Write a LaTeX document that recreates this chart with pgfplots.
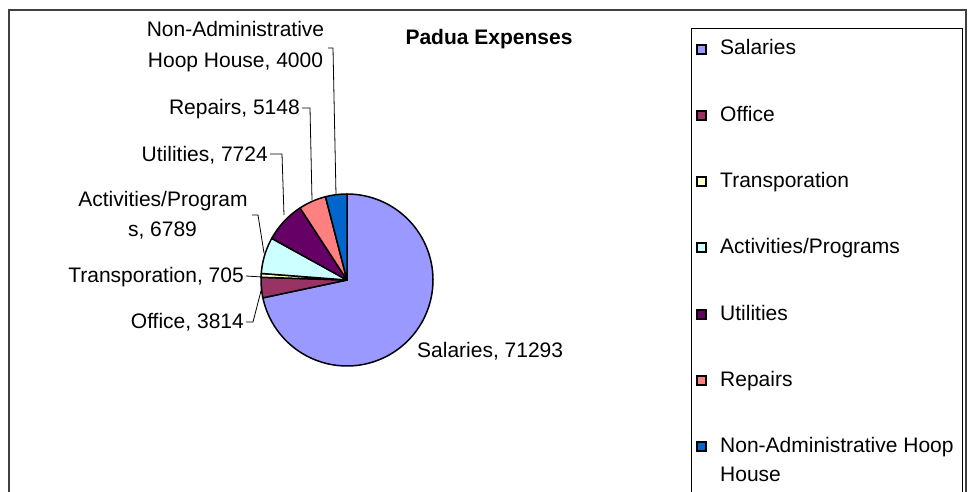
\documentclass[border=0pt]{standalone}
\usepackage{pgfplots}
\pgfplotsset{compat=1.18}
\usepackage{pgfplotstable}
\usepackage{fontspec}
\setmainfont{Liberation Sans}

\definecolor{cSal}{HTML}{9999FF}
\definecolor{cOff}{HTML}{993366}
\definecolor{cTra}{HTML}{FFFFCC}
\definecolor{cAct}{HTML}{CCFFFF}
\definecolor{cUti}{HTML}{660066}
\definecolor{cRep}{HTML}{FF8080}
\definecolor{cHoo}{HTML}{0066CC}

% Padua Expenses
\pgfplotstableread{
value
71293
3814
705
6789
7724
5148
4000
}\expenses

\newcommand\defang[2]{\expandafter\xdef\csname ang#1\endcsname{#2}}
\newcommand\ang[1]{\csname ang#1\endcsname}

\begin{document}
\begin{tikzpicture}[lab/.style={font=\fontsize{21bp}{30bp}\selectfont, inner sep=0pt}]
% total and cumulative angles (clockwise from 12 o'clock)
\xdef\tot{0}
\foreach \i in {0,...,6}{%
  \pgfplotstablegetelem{\i}{value}\of\expenses
  \xdef\tot{\fpeval{\tot+\pgfplotsretval}}%
}
\defang{0}{90}
\xdef\cum{0}
\foreach \i in {0,...,6}{%
  \pgfplotstablegetelem{\i}{value}\of\expenses
  \xdef\cum{\fpeval{\cum+\pgfplotsretval}}%
  \pgfmathtruncatemacro\j{\i+1}%
  \defang{\j}{\fpeval{90-360*\cum/\tot}}%
}
\begin{axis}[
  width=971bp, height=492bp, scale only axis,
  xmin=0, xmax=971, ymin=0, ymax=492, y dir=reverse,
  hide axis, at={(0,0)}, anchor=south west,
]
% outer chart border
\draw[black!75, line width=1.3bp] (axis cs:9,10) rectangle (axis cs:966,560);

% pie slices
\pgfplotsset{pie/.style={draw=black, line width=1.5bp, samples=90, line join=round}}
\addplot[pie, fill=cSal, domain=\ang{1}:\ang{0}] ({347+86*cos(x)},{280-86*sin(x)}) -- (axis cs:347,280) -- cycle;
\addplot[pie, fill=cOff, domain=\ang{2}:\ang{1}] ({347+86*cos(x)},{280-86*sin(x)}) -- (axis cs:347,280) -- cycle;
\addplot[pie, fill=cTra, domain=\ang{3}:\ang{2}] ({347+86*cos(x)},{280-86*sin(x)}) -- (axis cs:347,280) -- cycle;
\addplot[pie, fill=cAct, domain=\ang{4}:\ang{3}] ({347+86*cos(x)},{280-86*sin(x)}) -- (axis cs:347,280) -- cycle;
\addplot[pie, fill=cUti, domain=\ang{5}:\ang{4}] ({347+86*cos(x)},{280-86*sin(x)}) -- (axis cs:347,280) -- cycle;
\addplot[pie, fill=cRep, domain=\ang{6}:\ang{5}] ({347+86*cos(x)},{280-86*sin(x)}) -- (axis cs:347,280) -- cycle;
\addplot[pie, fill=cHoo, domain=\ang{7}:\ang{6}] ({347+86*cos(x)},{280-86*sin(x)}) -- (axis cs:347,280) -- cycle;

% leader lines
\pgfplotsset{lead/.style={black, line width=0.8bp, mark=none}}
\addplot[lead] coordinates {(328,48) (333,48) (336,195)};
\addplot[lead] coordinates {(302,108) (310,108) (312,200)};
\addplot[lead] coordinates {(270,154) (282,154) (284,215)};
\addplot[lead] coordinates {(252,215) (258,215) (264,253)};
\addplot[lead] coordinates {(246,276) (262,277)};
\addplot[lead] coordinates {(246,322) (253,322) (262,287)};

% data labels
\node[lab, anchor=base] at (axis cs:235.5,37) {Non-Administrative};
\node[lab, anchor=base] at (axis cs:235.5,68) {Hoop House, 4000};
\node[lab, anchor=base east] at (axis cs:300,114) {Repairs, 5148};
\node[lab, anchor=base east] at (axis cs:268,161) {Utilities, 7724};
\node[lab, anchor=base] at (axis cs:163,206) {Activities/Program};
\node[lab, anchor=base] at (axis cs:162.5,236) {s, 6789};
\node[lab, anchor=base east] at (axis cs:244,282) {Transporation, 705};
\node[lab, anchor=base east] at (axis cs:244,328) {Office, 3814};
\node[lab, anchor=base west] at (axis cs:417,357) {Salaries, 71293};

% title
\node[lab, font=\fontsize{21bp}{30bp}\selectfont\bfseries, anchor=base] at (axis cs:489,45) {Padua Expenses};

% legend
\draw[black, line width=1bp, fill=white] (axis cs:691,29) rectangle (axis cs:962,560);
\draw[black, line width=1.3bp, fill=cSal] (axis cs:697,45) rectangle (axis cs:706,54);
\node[lab, anchor=base west] at (axis cs:720,55) {Salaries};
\draw[black, line width=1.3bp, fill=cOff] (axis cs:697,111) rectangle (axis cs:706,120);
\node[lab, anchor=base west] at (axis cs:720,121) {Office};
\draw[black, line width=1.3bp, fill=cTra] (axis cs:697,177) rectangle (axis cs:706,186);
\node[lab, anchor=base west] at (axis cs:720,187) {Transporation};
\draw[black, line width=1.3bp, fill=cAct] (axis cs:697,243) rectangle (axis cs:706,252);
\node[lab, anchor=base west] at (axis cs:720,253) {Activities/Programs};
\draw[black, line width=1.3bp, fill=cUti] (axis cs:697,310) rectangle (axis cs:706,319);
\node[lab, anchor=base west] at (axis cs:720,320) {Utilities};
\draw[black, line width=1.3bp, fill=cRep] (axis cs:697,376) rectangle (axis cs:706,385);
\node[lab, anchor=base west] at (axis cs:720,386) {Repairs};
\draw[black, line width=1.3bp, fill=cHoo] (axis cs:697,442) rectangle (axis cs:706,451);
\node[lab, anchor=base west] at (axis cs:720,452) {Non-Administrative Hoop};
\node[lab, anchor=base west] at (axis cs:720,481) {House};
\end{axis}
\pgfresetboundingbox
\useasboundingbox (0,0) rectangle (971bp,492bp);
\end{tikzpicture}
\end{document}
